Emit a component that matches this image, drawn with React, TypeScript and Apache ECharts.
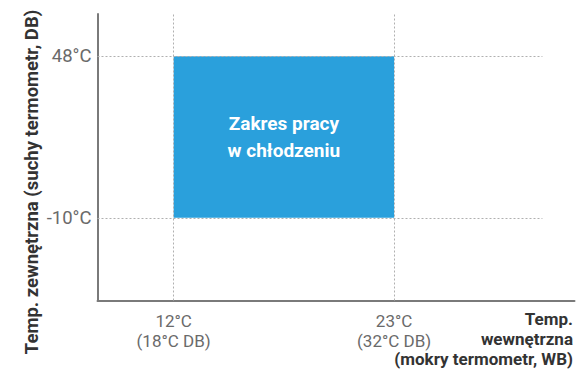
import React, { useEffect, useRef } from "react";
import * as echarts from "echarts";

const xTicks = [12, 23];
const xTickDb = [18, 32];
const yTicks = [48, -10];
const rangeX = [12, 23];
const rangeY = [-10, 48];
const areaLabel = "Zakres pracy\nw chłodzeniu";
const yName = "Temp. zewnętrzna (suchy termometr, DB)";
const xName = "Temp.\nwewnętrzna\n(mokry termometr, WB)";

const X_MIN = 8.2;
const X_MAX = 32;
const Y_MIN = -39.7;
const Y_MAX = 63.2;
const GUIDE_END = 30.4;

export default function App() {
  const ref = useRef<HTMLDivElement>(null);
  useEffect(() => {
    if (!ref.current) return;
    const chart = echarts.init(ref.current, null, { renderer: "svg" });
    const font = "Roboto";
    const labelColor = "#6a6a6a";
    const guide = { color: "#b0b0b0", width: 1, type: [2, 2] as any };
    chart.setOption({
      animation: false,
      textStyle: { fontFamily: font },
      grid: { left: 97.5, right: 2.5, top: 14, bottom: 70.5, containLabel: false },
      xAxis: {
        type: "value",
        min: X_MIN,
        max: X_MAX,
        splitLine: { show: false },
        axisLine: { show: true, onZero: false, lineStyle: { color: "#7a7a7a", width: 2 } },
        axisTick: { show: false },
        axisLabel: {
          customValues: xTicks,
          margin: 10,
          color: labelColor,
          fontSize: 17,
          lineHeight: 20,
          fontFamily: font,
          formatter: (v: number) => {
            const i = xTicks.indexOf(v);
            return `${v}°C\n(${xTickDb[i]}°C DB)`;
          },
        },
      },
      yAxis: {
        type: "value",
        min: Y_MIN,
        max: Y_MAX,
        splitLine: { show: false },
        axisLine: { show: true, onZero: false, lineStyle: { color: "#7a7a7a", width: 2 } },
        axisTick: { show: false },
        axisLabel: {
          customValues: yTicks,
          margin: 6,
          color: labelColor,
          fontSize: 18.5,
          fontFamily: font,
          formatter: (v: number) => `${v}°C`,
        },
      },
      graphic: [
        {
          type: "text",
          x: 32,
          y: 182,
          rotation: Math.PI / 2,
          style: {
            text: yName,
            fill: "#333",
            font: `bold 18.5px "${font}"`,
            align: "center",
            verticalAlign: "middle",
          },
        },
        {
          type: "text",
          x: 573,
          y: 309,
          style: {
            text: xName,
            fill: "#333",
            font: `bold 17px "${font}"`,
            align: "right",
            verticalAlign: "top",
            lineHeight: 20,
          },
        },
      ],
      series: [
        {
          type: "scatter",
          data: [],
          silent: true,
          markArea: {
            silent: true,
            itemStyle: { color: "#2aa0dc" },
            label: {
              show: true,
              position: "inside",
              color: "#fff",
              fontWeight: "bold",
              fontSize: 19,
              lineHeight: 27,
              fontFamily: font,
              formatter: areaLabel,
            },
            data: [[{ coord: [rangeX[0], rangeY[1]] }, { coord: [rangeX[1], rangeY[0]] }]],
          },
          markLine: {
            silent: true,
            symbol: "none",
            label: { show: false },
            lineStyle: guide,
            data: [
              ...xTicks.map((v) => ({ xAxis: v })),
              ...yTicks.map((v) => [{ coord: [X_MIN, v] }, { coord: [GUIDE_END, v] }]),
            ],
          },
        },
      ],
    });
    return () => chart.dispose();
  }, []);
  return <div ref={ref} style={{ width: 577, height: 371, position: "absolute", left: 0, top: 0 }} />;
}
